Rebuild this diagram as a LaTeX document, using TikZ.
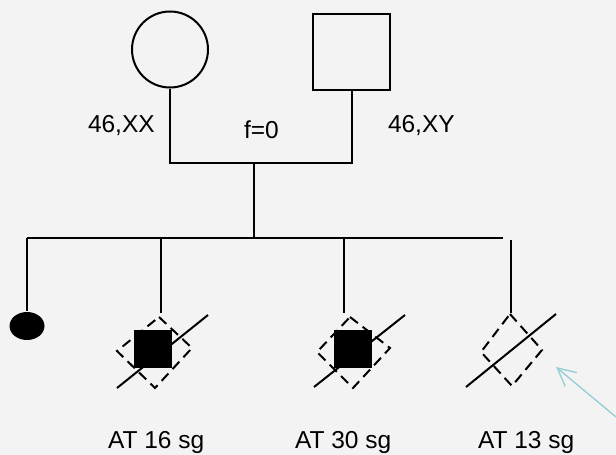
\documentclass[tikz,border=0pt]{standalone}
\usepackage{fontspec}
\setmainfont{Liberation Sans}
\usetikzlibrary{arrows.meta,shapes.geometric}
\definecolor{paper}{RGB}{243,243,243}
\definecolor{pointer}{RGB}{150,208,214}

\begin{document}
\begin{tikzpicture}[x=1pt, y=-1pt, line width=2pt,
  lbl/.style={font=\fontsize{24.5}{29}\selectfont, inner sep=0pt, anchor=base west},
  female/.style={circle, draw, minimum size=76pt, inner sep=0pt},
  male/.style={rectangle, draw, minimum width=77pt, minimum height=76pt, inner sep=0pt},
  affected/.style={rectangle, fill, minimum size=38pt, inner sep=0pt},
  daughter/.style={ellipse, fill, minimum width=35pt, minimum height=28pt, inner sep=0pt},
  fetal/.style={draw, dash pattern=on 10pt off 6pt},
  pointerline/.style={draw=pointer, line width=1.4pt, -{Straight Barb[length=18pt, width=18pt]}}
]
  % page and background
  \useasboundingbox (0,0) rectangle (616,455);
  \fill[paper] (0,0) rectangle (616,455);

  % parents
  \node[female] (mother) at (170,49.5) {};
  \node[male]   (father) at (351.5,52) {};
  \node[lbl] (kx) at (87,132) {46,XX};
  \node[lbl] (ky) at (387,132) {46,XY};
  \node[lbl] (fc) at (243,138) {f=0};

  % mating and descent lines
  \coordinate (mate) at (254,163);
  \coordinate (desc) at (254,238);
  \draw (mother.south) |- (mate) -| (father.south);
  \draw (mate) -- (desc);

  % sibship line
  \coordinate (sibL) at (27,238);
  \coordinate (sibR) at (503,238);
  \draw (sibL) -- (sibR);

  % child 1: daughter
  \node[daughter] (c1) at (27,326) {};
  \draw (sibL) -- (c1.north);

  % child 2: affected, AT 16 sg
  \coordinate (c2a) at (161,238);
  \coordinate (c2b) at (161,313);
  \draw (c2a) -- (c2b);
  \node[affected] (c2) at (153,349) {};
  \draw[fetal] (159,317) -- (192,348) -- (155,388) -- (117,351) -- cycle;
  \draw (117,388) -- (208,315);
  \node[lbl] (t2) at (107,448) {AT 16 sg};

  % child 3: affected, AT 30 sg
  \coordinate (c3a) at (344,238);
  \coordinate (c3b) at (344,313);
  \draw (c3a) -- (c3b);
  \node[affected] (c3) at (352.5,349) {};
  \draw[fetal] (350,317) -- (390,348) -- (353,388) -- (317,352) -- cycle;
  \draw (314,387) -- (405,315);
  \node[lbl] (t3) at (294,448) {AT 30 sg};

  % child 4: AT 13 sg
  \coordinate (c4a) at (511,240);
  \coordinate (c4b) at (511,313);
  \draw (c4a) -- (c4b);
  \draw[fetal] (510,314) -- (542,350) -- (512,386) -- (481,352) -- cycle;
  \draw (466,387) -- (556,314);
  \node[lbl] (t4) at (477,448) {AT 13 sg};

  % pointer
  \coordinate (ptail) at (616,417);
  \coordinate (ptip) at (556,367);
  \draw[pointerline] (ptail) -- (ptip);
\end{tikzpicture}
\end{document}
